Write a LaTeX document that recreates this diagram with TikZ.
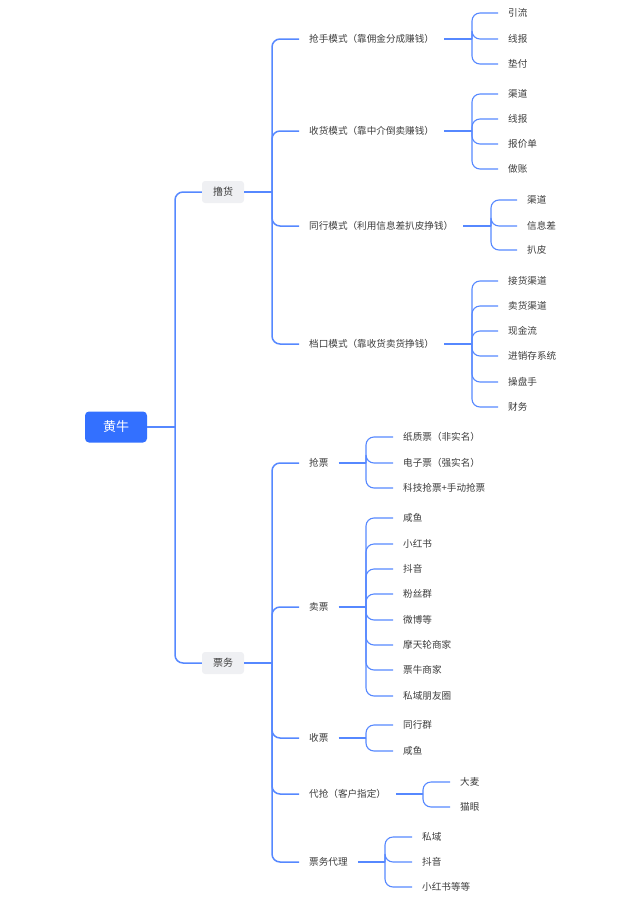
\documentclass[tikz,border=0pt]{standalone}
\usepackage{fontspec}
\newfontfamily\cjk{Noto Sans CJK SC}
\definecolor{lnblue}{RGB}{86,136,255}
\definecolor{rootblue}{RGB}{51,112,255}
\definecolor{boxgray}{RGB}{239,240,243}
\definecolor{txt}{RGB}{60,60,60}
\tikzset{
  rootbox/.style={fill=rootblue,rounded corners=4pt,minimum width=62pt,minimum height=31pt,inner sep=0pt,text=white,font=\cjk\fontsize{13}{15}\selectfont},
  lvone/.style={fill=boxgray,rounded corners=3pt,minimum width=42pt,minimum height=22pt,inner sep=0pt,text=txt,font=\cjk\fontsize{10}{12}\selectfont},
  lvtwo/.style={anchor=west,inner xsep=10pt,inner ysep=0pt,text=txt,font=\cjk\fontsize{9.6}{11}\selectfont},
  leaf/.style={anchor=west,inner xsep=10pt,inner ysep=0pt,text=txt,font=\cjk\fontsize{9.6}{11}\selectfont},
  br/.style={draw=lnblue,line width=1.5pt,rounded corners=8pt},
  lbr/.style={draw=lnblue,line width=1.1pt,rounded corners=8pt}
}
\begin{document}
\begin{tikzpicture}[x=1pt,y=-1pt]
\useasboundingbox (0,0) rectangle (639,900);
% root and level 1
\node[rootbox] (root) at (116,427) {黄牛};
\node[lvone] (lh) at (223,192) {撸货};
\node[lvone] (pw) at (223,663) {票务};
\coordinate (s0) at (175,427);
\draw[br] (root.east) -- (s0);
\draw[br] (s0) |- (lh.west);
\draw[br] (s0) |- (pw.west);
% level 2
\coordinate (sa) at (272,192);
\coordinate (sb) at (272,663);
\draw[br] (lh.east) -- (sa);
\draw[br] (pw.east) -- (sb);
\node[lvtwo] (g1) at (299,39) {抢手模式（靠佣金分成赚钱）};
\node[lvtwo] (g2) at (299,131) {收货模式（靠中介倒卖赚钱）};
\node[lvtwo] (g3) at (299,226) {同行模式（利用信息差扒皮挣钱）};
\node[lvtwo] (g4) at (299,344) {档口模式（靠收货卖货挣钱）};
\node[lvtwo] (g5) at (299,463) {抢票};
\node[lvtwo] (g6) at (299,607) {卖票};
\node[lvtwo] (g7) at (299,738) {收票};
\node[lvtwo] (g8) at (299,794) {代抢（客户指定）};
\node[lvtwo] (g9) at (299,862) {票务代理};
\foreach \g in {g1,g2,g3,g4} {\draw[br] (sa) |- (\g.west);}
\foreach \g in {g5,g6,g7,g8,g9} {\draw[br] (sb) |- (\g.west);}
% spines of level 3
\coordinate (s1) at (472,39);
\coordinate (s2) at (472,131);
\coordinate (s3) at (491,226);
\coordinate (s4) at (472,344);
\coordinate (s5) at (366,463);
\coordinate (s6) at (366,607);
\coordinate (s7) at (366,738);
\coordinate (s8) at (423,794);
\coordinate (s9) at (385,862);
\foreach \k in {1,...,9} {\draw[br] (g\k.east) -- (s\k);}
% leaves
\foreach \t/\yy [count=\i] in {引流/13,线报/39,垫付/64}
  {\node[leaf] (l1\i) at (498,\yy) {\t}; \draw[lbr] (s1) |- (l1\i.west);}
\foreach \t/\yy [count=\i] in {渠道/94,线报/119,报价单/144,做账/169}
  {\node[leaf] (l2\i) at (498,\yy) {\t}; \draw[lbr] (s2) |- (l2\i.west);}
\foreach \t/\yy [count=\i] in {渠道/200,信息差/226,扒皮/250}
  {\node[leaf] (l3\i) at (517,\yy) {\t}; \draw[lbr] (s3) |- (l3\i.west);}
\foreach \t/\yy [count=\i] in {接货渠道/281,卖货渠道/306,现金流/331,进销存系统/356,操盘手/382,财务/407}
  {\node[leaf] (l4\i) at (498,\yy) {\t}; \draw[lbr] (s4) |- (l4\i.west);}
\foreach \t/\yy [count=\i] in {纸质票（非实名）/437,电子票（强实名）/463,科技抢票+手动抢票/488}
  {\node[leaf] (l5\i) at (393,\yy) {\t}; \draw[lbr] (s5) |- (l5\i.west);}
\foreach \t/\yy [count=\i] in {咸鱼/518,小红书/544,抖音/569,粉丝群/594,微博等/620,摩天轮商家/645,票牛商家/670,私域朋友圈/696}
  {\node[leaf] (l6\i) at (393,\yy) {\t}; \draw[lbr] (s6) |- (l6\i.west);}
\foreach \t/\yy [count=\i] in {同行群/725,咸鱼/751}
  {\node[leaf] (l7\i) at (393,\yy) {\t}; \draw[lbr] (s7) |- (l7\i.west);}
\foreach \t/\yy [count=\i] in {大麦/782,猫眼/807}
  {\node[leaf] (l8\i) at (450,\yy) {\t}; \draw[lbr] (s8) |- (l8\i.west);}
\foreach \t/\yy [count=\i] in {私域/837,抖音/862,小红书等等/887}
  {\node[leaf] (l9\i) at (412,\yy) {\t}; \draw[lbr] (s9) |- (l9\i.west);}
\end{tikzpicture}
\end{document}
